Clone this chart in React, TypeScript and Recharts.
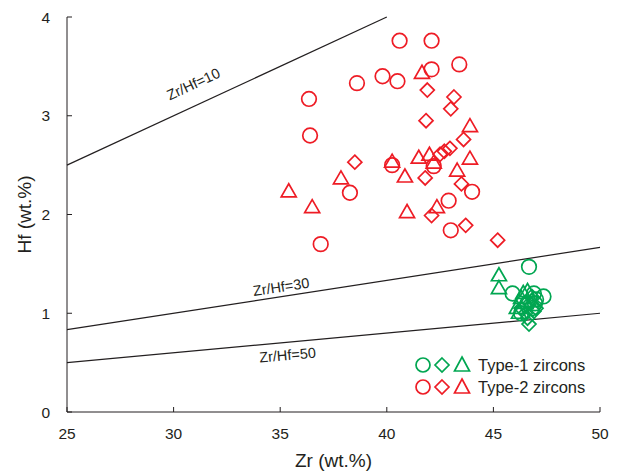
import React from 'react';
import {
  ScatterChart,
  Scatter,
  XAxis,
  YAxis,
  ReferenceLine,
  ReferenceDot,
  Legend,
} from 'recharts';

// Zr / Hf (wt.%), one list per symbol
const type1Circles = [
  [46.67, 1.47], [45.9, 1.2], [47.35, 1.17], [46.9, 1.2], [47.0, 1.14],
  [46.6, 1.1], [46.3, 1.0], [46.8, 1.05], [46.95, 1.1],
];
const type1Diamonds = [
  [46.67, 0.89], [46.5, 1.0], [46.9, 1.02], [46.7, 1.1], [47.0, 1.05],
  [46.3, 1.05], [46.8, 1.17], [46.6, 0.95],
];
const type1Triangles = [
  [45.26, 1.38], [45.26, 1.25], [46.4, 1.2], [46.5, 1.1], [46.2, 1.0],
  [46.6, 1.22], [46.1, 1.05], [46.8, 1.12], [46.3, 1.15],
];

const type2Circles = [
  [36.35, 3.17], [36.4, 2.8], [38.6, 3.33], [39.8, 3.4], [40.5, 3.35],
  [40.6, 3.76], [42.1, 3.76], [42.1, 3.47], [43.4, 3.52], [40.25, 2.5],
  [38.27, 2.22], [36.9, 1.7], [42.2, 2.49], [42.9, 2.14], [44.0, 2.23],
  [43.0, 1.84],
];
const type2Diamonds = [
  [41.9, 3.26], [43.15, 3.19], [43.0, 3.07], [41.84, 2.95], [43.6, 2.76],
  [38.5, 2.53], [41.8, 2.37], [43.5, 2.31], [42.5, 2.61], [42.96, 2.67],
  [42.7, 2.64], [42.1, 1.99], [43.7, 1.89], [45.2, 1.74],
];
const type2Triangles = [
  [41.65, 3.43], [43.9, 2.89], [35.4, 2.23], [36.5, 2.07], [37.85, 2.36],
  [40.25, 2.53], [40.85, 2.38], [41.5, 2.57], [42.0, 2.6], [42.2, 2.52],
  [43.9, 2.56], [43.3, 2.44], [40.95, 2.02], [42.35, 2.07],
];

const xTicks = [25, 30, 35, 40, 45, 50];
const yTicks = [0, 1, 2, 3, 4];

// Zr/Hf ratio lines and where their labels sit
const ratioLines = [
  { ratio: 10, from: 25, to: 40, labelAt: [30.95, 3.31], angle: -25 },
  { ratio: 30, from: 25, to: 50, labelAt: [35.05, 1.255], angle: -8.5 },
  { ratio: 50, from: 25, to: 50, labelAt: [35.35, 0.565], angle: -5 },
];

const GREEN = '#00a651';
const RED = '#ee1c25';
const INK = '#231f20';
const FONT = '"Liberation Sans Narrow", "Liberation Sans", Arial, sans-serif';

const toPoints = (rows: number[][]) => rows.map(([zr, hf]) => ({ zr, hf }));

const circle = (color: string) => (p: any) => (
  <circle cx={p.cx} cy={p.cy} r={7.3} fill="none" stroke={color} strokeWidth={1.7} />
);
const diamond = (color: string) => (p: any) => (
  <path
    d={`M${p.cx},${p.cy - 7} L${p.cx + 7},${p.cy} L${p.cx},${p.cy + 7} L${p.cx - 7},${p.cy} Z`}
    fill="none"
    stroke={color}
    strokeWidth={1.7}
  />
);
const triangle = (color: string) => (p: any) => (
  <path
    d={`M${p.cx},${p.cy - 8} L${p.cx + 7.5},${p.cy + 5} L${p.cx - 7.5},${p.cy + 5} Z`}
    fill="none"
    stroke={color}
    strokeWidth={1.7}
  />
);

const LegendRow = ({ color, text }: { color: string; text: string }) => (
  <div style={{ display: 'flex', alignItems: 'center', height: 22 }}>
    <svg width={62} height={20}>
      <circle cx={9} cy={10} r={7} fill="none" stroke={color} strokeWidth={1.7} />
      <path d="M28,3 L35,10 L28,17 L21,10 Z" fill="none" stroke={color} strokeWidth={1.7} />
      <path d="M48,2 L55.5,16 L40.5,16 Z" fill="none" stroke={color} strokeWidth={1.7} />
    </svg>
    <span style={{ marginLeft: 2, fontSize: 16.5, color: INK, fontFamily: FONT }}>{text}</span>
  </div>
);

const renderLegend = () => (
  <div>
    <LegendRow color={GREEN} text="Type-1 zircons" />
    <LegendRow color={RED} text="Type-2 zircons" />
  </div>
);

export default function App() {
  return (
    <div style={{ position: 'absolute', left: 0, top: 0, background: '#fff' }}>
      <ScatterChart width={621} height={472} margin={{ top: 17, right: 21, bottom: 0, left: 22 }}>
        <XAxis
          type="number"
          dataKey="zr"
          domain={[25, 50]}
          ticks={xTicks}
          height={60}
          stroke={INK}
          tickSize={-5}
          tickMargin={21}
          tick={{ fill: INK, fontSize: 15.5, fontFamily: FONT }}
          label={{
            value: 'Zr (wt.%)',
            position: 'insideBottom',
            offset: 5,
            style: { fill: INK, fontSize: 19, fontFamily: FONT },
          }}
          allowDataOverflow
        />
        <XAxis
          xAxisId="top"
          orientation="top"
          type="number"
          domain={[25, 50]}
          height={0}
          stroke={INK}
          tick={false}
          tickLine={false}
        />
        <YAxis
          type="number"
          dataKey="hf"
          domain={[0, 4]}
          ticks={yTicks}
          width={45}
          stroke={INK}
          tickSize={-5}
          tickMargin={22}
          tick={{ fill: INK, fontSize: 15.5, fontFamily: FONT }}
          label={{
            value: 'Hf (wt.%)',
            angle: -90,
            position: 'insideLeft',
            offset: 2,
            style: { fill: INK, fontSize: 19, fontFamily: FONT, textAnchor: 'middle' },
          }}
          allowDataOverflow
        />
        <YAxis
          yAxisId="right"
          orientation="right"
          type="number"
          domain={[0, 4]}
          width={0}
          stroke={INK}
          tick={false}
          tickLine={false}
        />
        {ratioLines.map((l) => (
          <ReferenceLine
            key={l.ratio}
            segment={[
              { x: l.from, y: l.from / l.ratio },
              { x: l.to, y: l.to / l.ratio },
            ]}
            stroke={INK}
            strokeWidth={1.2}
          />
        ))}
        {ratioLines.map((l) => (
          <ReferenceDot
            key={`lab-${l.ratio}`}
            x={l.labelAt[0]}
            y={l.labelAt[1]}
            shape={(p: any) => (
              <text
                x={p.cx}
                y={p.cy}
                textAnchor="middle"
                dominantBaseline="middle"
                transform={`rotate(${l.angle} ${p.cx} ${p.cy})`}
                fill={INK}
                fontSize={14.5}
                fontFamily={FONT}
              >
                {`Zr/Hf=${l.ratio}`}
              </text>
            )}
          />
        ))}
        <Scatter data={toPoints(type2Circles)} shape={circle(RED)} isAnimationActive={false} />
        <Scatter data={toPoints(type2Diamonds)} shape={diamond(RED)} isAnimationActive={false} />
        <Scatter data={toPoints(type2Triangles)} shape={triangle(RED)} isAnimationActive={false} />
        <Scatter data={toPoints(type1Circles)} shape={circle(GREEN)} isAnimationActive={false} />
        <Scatter data={toPoints(type1Diamonds)} shape={diamond(GREEN)} isAnimationActive={false} />
        <Scatter data={toPoints(type1Triangles)} shape={triangle(GREEN)} isAnimationActive={false} />
        <Legend
          layout="vertical"
          align="center"
          verticalAlign="middle"
          content={renderLegend}
          wrapperStyle={{ left: 414, top: 354, width: 200 }}
        />
      </ScatterChart>
    </div>
  );
}
